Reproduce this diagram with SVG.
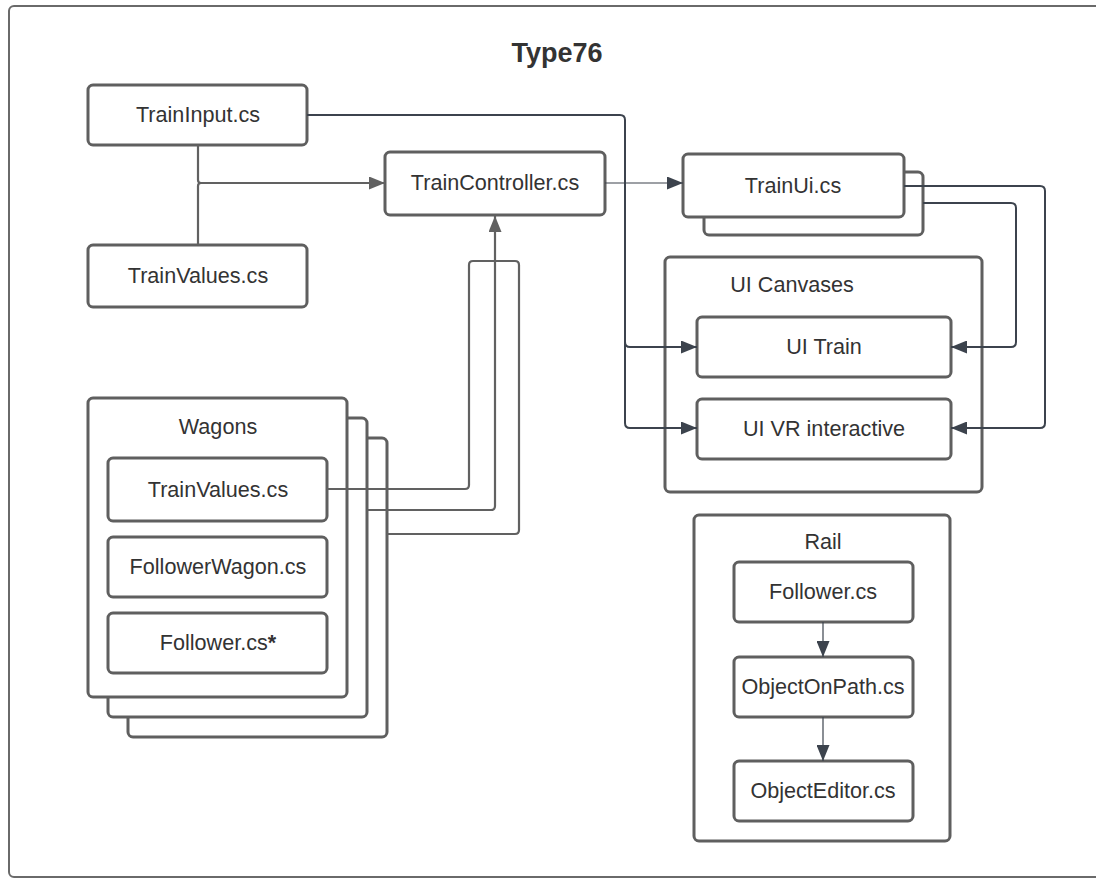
<svg xmlns="http://www.w3.org/2000/svg" width="1096" height="879" viewBox="0 0 1096 879">
  <defs>
    <style>
      .frame { fill: #ffffff; stroke: #6a6a6a; stroke-width: 2; }
      .box { fill: #ffffff; stroke: #5f5f5f; stroke-width: 3; }
      .lbl { font-family: "Liberation Sans", Arial, sans-serif; font-size: 21.6px; fill: #333333; text-anchor: middle; }
      .title { font-family: "Liberation Sans", Arial, sans-serif; font-size: 27px; font-weight: bold; fill: #333333; text-anchor: middle; }
      .wire-grey { fill: none; stroke: #616161; stroke-width: 2.2; }
      .wire-dark { fill: none; stroke: #3c434d; stroke-width: 2; }
      .wire-thin { fill: none; stroke: #3c434d; stroke-width: 1.2; }
    </style>
    <marker id="headGrey" viewBox="0 0 16 13" refX="16" refY="6.5" markerWidth="16" markerHeight="13" markerUnits="userSpaceOnUse" orient="auto">
      <path d="M0,0 L16,6.5 L0,13 Z" fill="#616161"/>
    </marker>
    <marker id="headDark" viewBox="0 0 16 13" refX="16" refY="6.5" markerWidth="16" markerHeight="13" markerUnits="userSpaceOnUse" orient="auto">
      <path d="M0,0 L16,6.5 L0,13 Z" fill="#3c434d"/>
    </marker>
  </defs>

  <rect width="1096" height="879" fill="#ffffff"/>

  <!-- outer frame and title -->
  <g id="frame">
    <rect class="frame" x="9" y="6" width="1100" height="871" rx="5"/>
    <text class="title" x="557" y="62">Type76</text>
  </g>

  <g id="trainInput">
    <rect class="box" x="88" y="85" width="219" height="60" rx="5"/>
    <text class="lbl" x="198" y="122">TrainInput.cs</text>
  </g>

  <g id="trainValues">
    <rect class="box" x="88" y="245" width="219" height="62" rx="5"/>
    <text class="lbl" x="198" y="283">TrainValues.cs</text>
  </g>

  <g id="trainController">
    <rect class="box" x="385" y="152" width="220" height="63" rx="5"/>
    <text class="lbl" x="495" y="190">TrainController.cs</text>
  </g>

  <g id="trainUi">
    <rect class="box" x="704" y="172" width="219" height="63" rx="5"/>
    <rect class="box" x="683" y="154" width="221" height="63" rx="5"/>
    <text class="lbl" x="793" y="193">TrainUi.cs</text>
  </g>

  <g id="uiCanvases">
    <rect class="box" x="665" y="257" width="317" height="235" rx="5"/>
    <text class="lbl" x="792" y="292">UI Canvases</text>
  </g>

  <g id="uiTrain">
    <rect class="box" x="697" y="317" width="254" height="60" rx="5"/>
    <text class="lbl" x="824" y="354">UI Train</text>
  </g>

  <g id="uiVrInteractive">
    <rect class="box" x="697" y="399" width="254" height="60" rx="5"/>
    <text class="lbl" x="824" y="436">UI VR interactive</text>
  </g>

  <g id="wagons">
    <rect class="box" x="128" y="438" width="259" height="299" rx="5"/>
    <rect class="box" x="108" y="418" width="259" height="299" rx="5"/>
    <rect class="box" x="88" y="398" width="259" height="299" rx="5"/>
    <text class="lbl" x="218" y="434">Wagons</text>
  </g>

  <g id="wagonTrainValues">
    <rect class="box" x="108" y="458" width="219" height="63" rx="5"/>
    <text class="lbl" x="218" y="497">TrainValues.cs</text>
  </g>

  <g id="followerWagon">
    <rect class="box" x="108" y="537" width="219" height="60" rx="5"/>
    <text class="lbl" x="218" y="574">FollowerWagon.cs</text>
  </g>

  <g id="wagonFollower">
    <rect class="box" x="108" y="613" width="219" height="60" rx="5"/>
    <text class="lbl" x="218" y="650">Follower.cs<tspan font-weight="bold">*</tspan></text>
  </g>

  <g id="rail">
    <rect class="box" x="694" y="515" width="256" height="326" rx="5"/>
    <text class="lbl" x="823" y="549">Rail</text>
  </g>

  <g id="railFollower">
    <rect class="box" x="734" y="562" width="179" height="60" rx="5"/>
    <text class="lbl" x="823" y="599">Follower.cs</text>
  </g>

  <g id="objectOnPath">
    <rect class="box" x="734" y="657" width="179" height="60" rx="5"/>
    <text class="lbl" x="823" y="694">ObjectOnPath.cs</text>
  </g>

  <g id="objectEditor">
    <rect class="box" x="734" y="761" width="179" height="60" rx="5"/>
    <text class="lbl" x="823" y="798">ObjectEditor.cs</text>
  </g>

  <!-- connectors, drawn on top of the containers they cross -->
  <g id="connectors">
    <!-- TrainInput / TrainValues into TrainController -->
    <path class="wire-grey" d="M198,145 V180 Q198,183 201,183 H385" marker-end="url(#headGrey)"/>
    <path class="wire-grey" d="M198,244 V186 Q198,183 201,183"/>
    <!-- TrainController to TrainUi -->
    <path class="wire-thin" d="M605,183 H683" marker-end="url(#headDark)"/>
    <!-- TrainInput to the UI canvases -->
    <path class="wire-dark" d="M307,115 H620 Q625,115 625,120 V342 Q625,347 630,347 H697" marker-end="url(#headDark)"/>
    <path class="wire-dark" d="M625,340 V423 Q625,428 630,428 H697" marker-end="url(#headDark)"/>
    <!-- TrainUi to the UI canvases -->
    <path class="wire-dark" d="M904,186 H1040 Q1045,186 1045,191 V423 Q1045,428 1040,428 H951" marker-end="url(#headDark)"/>
    <path class="wire-dark" d="M923,203 H1011 Q1016,203 1016,208 V342 Q1016,347 1011,347 H951" marker-end="url(#headDark)"/>
    <!-- Wagons into TrainController -->
    <path class="wire-grey" d="M327,489 H465 Q469,489 469,485 V265 Q469,261 473,261 H495"/>
    <path class="wire-grey" d="M367,510 H491 Q495,510 495,506 V216" marker-end="url(#headGrey)"/>
    <path class="wire-grey" d="M387,534 H515 Q519,534 519,530 V265 Q519,261 515,261 H495"/>
    <!-- Rail chain -->
    <path class="wire-thin" d="M823,622 V657" marker-end="url(#headDark)"/>
    <path class="wire-thin" d="M823,717 V761" marker-end="url(#headDark)"/>
  </g>
</svg>
